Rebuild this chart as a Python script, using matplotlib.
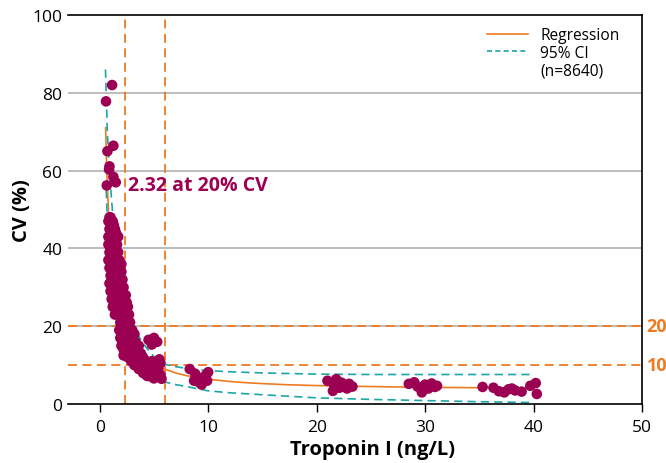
import matplotlib.pyplot as plt
from matplotlib.lines import Line2D
import matplotlib.transforms as mtransforms

plt.rcParams['font.family'] = ['Open Sans', 'DejaVu Sans']

# Measured points, grouped by concentration cluster
low_x = [1.14, 0.58, 1.26, 0.71, 0.9, 0.86, 1.26, 1.48, 0.65,
         0.9, 1.0, 0.8, 1.2, 1.3, 0.9, 1.4, 1.1, 1.5, 0.8, 1.0, 1.4, 0.8, 1.2, 1.6,
         1.0, 0.9, 1.3, 1.7, 1.1, 0.8, 1.5, 1.8, 1.2, 0.9, 1.6, 1.3, 2.0, 1.0, 1.7,
         1.4, 2.1, 0.9, 1.8, 1.2, 2.2, 1.5, 1.0, 1.9, 2.4, 1.3, 1.1, 1.6, 2.2,
         1.4, 2.5, 1.9, 1.2, 2.0, 2.6, 1.6, 2.3, 1.8, 2.7, 1.4, 2.1, 2.5, 1.9, 2.8,
         2.2, 2.6, 2.0, 1.5, 1.9, 1.7, 2.4, 2.0, 1.3]
low_y = [82, 77.8, 66.4, 65, 61.1, 60.3, 58.4, 57, 56.2,
         48, 48, 47, 47, 46, 45, 45, 44, 44, 43, 42, 42, 41, 41, 41,
         40, 39, 39, 39, 38, 37, 37, 37, 36, 35, 35, 34, 34, 33, 33,
         32, 32, 31, 31, 30, 30, 29, 29, 28, 28, 28, 27, 27, 27,
         26, 26, 26, 25, 25, 25, 24, 24, 23, 23, 23, 22, 22, 21, 21,
         20, 20, 20, 35.5, 30.5, 43, 26.5, 36, 39.5]

mid_x = [1.8, 2.4, 3.0, 2.0, 2.7, 3.2, 1.9, 2.3, 2.9, 2.1, 2.6, 3.3,
         2.0, 2.5, 3.0, 3.6, 2.2, 2.8, 3.4, 2.4, 3.1, 3.8, 2.6, 3.3, 4.0,
         2.9, 3.5, 4.3, 4.8, 3.2, 3.8, 4.5, 5.2, 3.6, 4.2, 4.8, 5.4,
         4.0, 4.6, 5.1, 4.3, 5.6, 4.8, 5.3, 4.5, 5.0, 5.3, 4.8, 5.6, 5.5,
         4.4, 5.0, 5.7, 2.2, 3.6, 4.1, 2.8]
mid_y = [19, 19, 19, 18, 18, 18, 17, 17, 17, 16, 16, 16,
         15, 15, 15, 15, 14, 14, 14, 13, 13, 13, 12, 12, 12,
         11, 11, 11, 11, 10, 10, 10, 10, 9, 9, 9, 9,
         8, 8, 8, 7.5, 7.5, 7, 7, 16.5, 17.0, 16.0, 15.3, 10.5, 11.5,
         7.2, 6.6, 6.5, 12.5, 13.5, 10.5, 15.5]

high_x = [8.3, 8.8, 9.0, 9.2, 9.5, 9.8, 10.0, 9.4, 8.7, 9.9,
          21.0, 21.6, 21.8, 22.1, 22.3, 22.6, 23.0, 23.3, 21.5, 22.8,
          28.5, 29.0, 29.3, 29.7, 30.0, 30.3, 30.6, 30.9, 31.1, 29.8,
          35.3, 36.3, 36.8, 37.3, 37.7, 38.0, 38.3, 38.9, 39.7, 40.2, 40.3]
high_y = [9.0, 7.8, 6.5, 5.5, 6.8, 7.5, 8.2, 5.0, 6.0, 6.0,
          6.0, 5.0, 6.4, 4.2, 5.5, 4.8, 5.2, 4.5, 3.4, 4.0,
          5.2, 5.6, 4.5, 3.0, 5.0, 4.0, 5.3, 4.4, 4.7, 3.6,
          4.4, 4.2, 3.3, 3.0, 3.8, 4.0, 3.5, 3.2, 4.7, 5.4, 2.6]

# Regression curve and 95% CI
reg_x = [0.55, 0.65, 0.8, 1.0, 1.3, 1.6, 2.0, 2.32, 3, 4, 5, 6, 7, 8, 9, 10, 12, 14,
         17, 20, 25, 30, 35, 40]
reg_y = [71, 60, 50, 41, 32, 26.5, 22, 20, 15.5, 12, 10.2, 9.0, 8.0, 7.3, 6.8, 6.4,
         5.8, 5.4, 5.0, 4.75, 4.5, 4.3, 4.2, 4.1]
ci_hi_x = [0.53, 0.6, 0.7, 0.8, 0.9, 1.0, 1.3, 1.6, 2.0, 2.32, 3, 4, 5, 6, 7, 8, 10,
           12, 15, 20, 25, 30, 35, 40]
ci_hi_y = [86, 80, 70, 65, 61, 56, 45, 37, 30, 26, 20.5, 15.5, 12.2, 10.2, 9.6, 9.2,
           8.6, 8.3, 8.0, 7.7, 7.6, 7.6, 7.6, 7.6]
ci_lo_x = [0.6, 0.8, 1.0, 1.3, 1.6, 2.0, 2.32, 3, 4, 5, 6, 7, 8, 10, 12, 15, 20, 25,
           30, 35, 40]
ci_lo_y = [55, 40, 32, 24, 19, 15, 13, 10, 7.8, 6.6, 5.7, 5.0, 4.5, 3.4, 2.9, 2.4,
           1.6, 1.2, 0.9, 0.6, 0.4]

cv_limits = [20, 10]
conc_marks = [2.32, 6]

orange = '#EE7B22'
teal = '#1CA6A8'
crimson = '#9C0052'

fig = plt.figure(figsize=(6.66, 4.64), dpi=100)
ax = fig.add_axes([0.102, 0.127, 0.862, 0.8385])

for v in [20, 40, 60, 80]:
    ax.axhline(v, color='#AAAAAA', lw=1.1, zorder=0)

ax.plot(reg_x, reg_y, color=orange, lw=1.2, zorder=2)
ax.plot(ci_hi_x, ci_hi_y, color=teal, lw=1.2, ls=(0, (5, 3)), zorder=2)
ax.plot(ci_lo_x, ci_lo_y, color=teal, lw=1.2, ls=(0, (5, 3)), zorder=2)

ax.scatter(low_x + mid_x + high_x, low_y + mid_y + high_y, s=58, color=crimson,
           edgecolors='none', zorder=3)

for c in cv_limits:
    ax.axhline(c, color=orange, lw=1.3, ls=(0, (5, 3)), zorder=1)
for c in conc_marks:
    ax.axvline(c, color=orange, lw=1.3, ls=(0, (5, 3)), zorder=1)

trans = mtransforms.blended_transform_factory(ax.transAxes, ax.transData)
for c in cv_limits:
    ax.text(1.008, c, str(c), transform=trans, color=orange, fontsize=13,
            fontweight='bold', va='center', ha='left', clip_on=False)

ax.text(2.6, 56.3, '2.32 at 20% CV', color=crimson, fontsize=14,
        fontweight='bold', va='center', ha='left')

ax.set_xlim(-2.93, 50)
ax.set_ylim(0, 100)
ax.set_xticks([0, 10, 20, 30, 40, 50])
ax.set_yticks([0, 20, 40, 60, 80, 100])
ax.tick_params(axis='both', labelsize=12.5)
ax.tick_params(axis='y', length=0, pad=4)
ax.tick_params(axis='x', length=6, width=1, pad=5)
ax.spines['left'].set_visible(False)
for s in ['top', 'right', 'bottom']:
    ax.spines[s].set_linewidth(1.2)

ax.set_xlabel('Troponin I (ng/L)', fontsize=14.5, fontweight='bold')
ax.set_ylabel('CV (%)', fontsize=14.5, fontweight='bold')
ax.xaxis.set_label_coords(0.53, -0.09)
ax.yaxis.set_label_coords(-0.062, 0.5)

handles = [Line2D([], [], color=orange, lw=1.2),
           Line2D([], [], color=teal, lw=1.2, ls=(0, (3, 2))),
           Line2D([], [], alpha=0)]
ax.legend(handles, ['Regression', '95% CI', '(n=8640)'], loc='upper right',
          frameon=False, fontsize=11.2, handlelength=2.6, labelspacing=0.12,
          bbox_to_anchor=(0.985, 1.005))

fig.savefig('out.png', dpi=100)
